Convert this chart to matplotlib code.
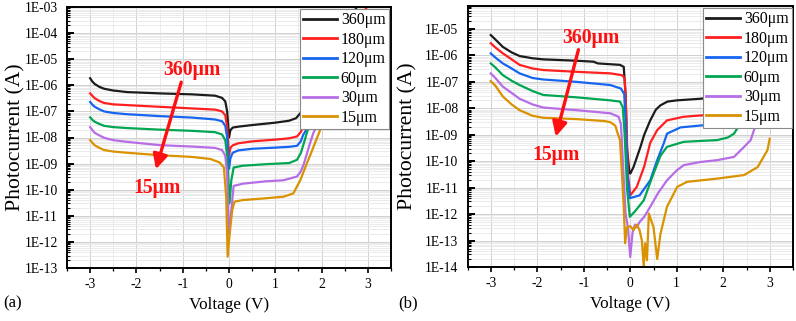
import numpy as np
import matplotlib
matplotlib.use('Agg')
import matplotlib.pyplot as plt
from matplotlib.ticker import MultipleLocator, LogLocator, FuncFormatter, NullFormatter

plt.rcParams['font.family'] = ['Liberation Serif', 'DejaVu Serif']
plt.rcParams['axes.unicode_minus'] = False

labels = ['360μm', '180μm', '120μm', '60μm', '30μm', '15μm']
colors = ['#1c1c1c', '#ff1f1f', '#1565f0', '#00a651', '#b66de6', '#d99200']
x_ticks = [-3, -2, -1, 0, 1, 2, 3]

# ---------------- panel (a) ----------------
a_v_360 = [-3.0, -2.95, -2.9, -2.8, -2.7, -2.5, -2.2, -1.5, -0.8, -0.3, -0.15, -0.08, -0.04, 0.0, 0.03, 0.08, 0.2, 0.5, 1.0, 1.3, 1.45, 1.55, 1.65, 1.8, 2.2, 2.76, 3.0]
a_i_360 = [1.86e-6, 1.38e-6, 1.12e-6, 8.7e-7, 7.4e-7, 6.3e-7, 5.5e-7, 4.9e-7, 4.5e-7, 4.0e-7, 3.3e-7, 2.4e-7, 1.0e-7, 1.0e-8, 1.9e-8, 2.4e-8, 2.6e-8, 3.0e-8, 3.7e-8, 4.4e-8, 5.5e-8, 8.9e-8, 2.0e-7, 7.9e-7, 1.26e-5, 1.0e-3, 2.5e-3]

a_v_180 = [-3.0, -2.95, -2.9, -2.8, -2.7, -2.5, -2.2, -1.5, -0.8, -0.3, -0.15, -0.08, -0.04, 0.0, 0.03, 0.08, 0.2, 0.5, 1.0, 1.3, 1.47, 1.55, 1.6, 1.7, 2.0, 2.5, 2.98, 3.0]
a_i_180 = [4.9e-7, 3.9e-7, 3.2e-7, 2.5e-7, 2.1e-7, 1.86e-7, 1.74e-7, 1.5e-7, 1.3e-7, 1.17e-7, 1.0e-7, 7.1e-8, 2.5e-8, 2.0e-9, 4.0e-9, 5.0e-9, 6.0e-9, 7.1e-9, 8.3e-9, 9.3e-9, 1.1e-8, 1.6e-8, 2.6e-8, 6.3e-8, 1.0e-6, 4.0e-5, 1.0e-3, 1.1e-3]

a_v_120 = [-3.0, -2.95, -2.9, -2.8, -2.7, -2.5, -2.2, -1.5, -0.8, -0.3, -0.15, -0.08, -0.04, 0.0, 0.03, 0.08, 0.2, 0.5, 1.0, 1.3, 1.47, 1.55, 1.6, 1.67, 1.8, 2.2, 3.0]
a_i_120 = [2.3e-7, 1.8e-7, 1.5e-7, 1.2e-7, 1.0e-7, 8.7e-8, 7.8e-8, 6.6e-8, 5.8e-8, 4.9e-8, 4.2e-8, 2.8e-8, 1.0e-8, 6.3e-10, 1.6e-9, 2.6e-9, 3.2e-9, 3.7e-9, 4.1e-9, 4.4e-9, 4.8e-9, 7.1e-9, 1.23e-8, 2.0e-8, 6.3e-8, 1.6e-6, 2.5e-4]

a_v_60 = [-3.0, -2.95, -2.9, -2.8, -2.7, -2.5, -2.2, -1.5, -0.8, -0.3, -0.15, -0.08, -0.04, 0.01, 0.05, 0.1, 0.3, 0.8, 1.3, 1.47, 1.55, 1.62, 1.68, 1.75, 2.0, 3.0]
a_i_60 = [5.9e-8, 4.7e-8, 4.0e-8, 3.3e-8, 2.8e-8, 2.5e-8, 2.3e-8, 2.0e-8, 1.8e-8, 1.6e-8, 1.3e-8, 7.9e-9, 2.0e-9, 3.0e-11, 2.3e-10, 7.1e-10, 8.3e-10, 9.5e-10, 1.05e-9, 1.4e-9, 2.5e-9, 6.3e-9, 1.45e-8, 3.5e-8, 3.2e-7, 1.0e-4]

a_v_30 = [-3.0, -2.95, -2.9, -2.8, -2.7, -2.5, -2.2, -1.5, -0.8, -0.3, -0.15, -0.08, -0.04, -0.01, 0.05, 0.1, 0.3, 0.8, 1.18, 1.47, 1.55, 1.61, 1.75, 1.82, 2.1, 3.0]
a_i_30 = [2.5e-8, 1.9e-8, 1.5e-8, 1.2e-8, 9.8e-9, 7.9e-9, 6.8e-9, 5.1e-9, 4.5e-9, 4.0e-9, 3.3e-9, 2.0e-9, 4.0e-10, 2.1e-12, 1.66e-11, 1.4e-10, 1.7e-10, 2.1e-10, 2.3e-10, 3.2e-10, 5.0e-10, 8.9e-10, 6.0e-9, 1.45e-8, 1.6e-7, 5.0e-5]

a_v_15 = [-3.0, -2.95, -2.9, -2.8, -2.7, -2.5, -2.2, -1.5, -0.8, -0.4, -0.2, -0.11, -0.06, -0.03, 0.03, 0.07, 0.12, 0.3, 0.8, 1.18, 1.39, 1.54, 1.68, 1.75, 1.97, 2.3, 3.0]
a_i_15 = [7.9e-9, 6.2e-9, 5.0e-9, 4.0e-9, 3.3e-9, 2.9e-9, 2.6e-9, 2.1e-9, 1.8e-9, 1.5e-9, 1.1e-9, 7.1e-10, 5.0e-11, 2.7e-13, 3.8e-12, 1.66e-11, 3.5e-11, 4.0e-11, 4.7e-11, 5.4e-11, 7.2e-11, 2.3e-10, 1.0e-9, 2.0e-9, 1.95e-8, 3.2e-7, 1.6e-5]

# ---------------- panel (b) ----------------
b_v_360 = [-3.0, -2.9, -2.74, -2.55, -2.38, -2.1, -1.87, -1.15, -0.79, -0.7, -0.22, -0.14, -0.1, -0.07, -0.02, 0.0, 0.07, 0.22, 0.3, 0.43, 0.55, 0.65, 0.8, 1.0, 1.5, 2.0, 2.5, 3.0]
b_i_360 = [5.9e-6, 4.0e-6, 2.1e-6, 1.3e-6, 9.5e-7, 7.8e-7, 7.1e-7, 6.3e-7, 5.8e-7, 5.0e-7, 4.4e-7, 3.7e-7, 3.2e-8, 3.2e-10, 4.0e-11, 3.4e-11, 6.0e-11, 3.5e-10, 1.0e-9, 3.5e-9, 8.9e-9, 1.3e-8, 1.8e-8, 2.0e-8, 2.3e-8, 2.8e-8, 5.0e-8, 1.6e-7]

b_v_180 = [-3.0, -2.9, -2.74, -2.55, -2.38, -2.1, -1.87, -1.15, -0.43, -0.18, -0.12, -0.09, -0.05, 0.0, 0.14, 0.3, 0.43, 0.58, 0.79, 1.15, 1.58, 2.2, 3.0]
b_i_180 = [2.9e-6, 2.0e-6, 1.2e-6, 7.1e-7, 4.4e-7, 3.2e-7, 2.8e-7, 2.4e-7, 2.1e-7, 1.8e-7, 1.4e-7, 1.0e-8, 3.2e-11, 5.1e-12, 1.07e-11, 6.3e-11, 5.0e-10, 1.5e-9, 3.5e-9, 4.8e-9, 5.5e-9, 7.0e-9, 2.5e-8]

b_v_120 = [-3.0, -2.9, -2.74, -2.55, -2.38, -2.1, -1.87, -1.15, -0.43, -0.2, -0.13, -0.1, -0.06, -0.01, 0.2, 0.43, 0.58, 0.72, 0.79, 1.08, 1.58, 2.2, 3.0]
b_i_120 = [1.2e-6, 8.3e-7, 5.0e-7, 3.2e-7, 2.1e-7, 1.4e-7, 1.23e-7, 1.0e-7, 7.6e-8, 5.6e-8, 3.5e-8, 3.2e-9, 3.2e-11, 4.0e-12, 5.1e-12, 1.9e-11, 1.1e-10, 4.7e-10, 1.1e-9, 1.9e-9, 2.3e-9, 2.8e-9, 7.9e-9]

b_v_60 = [-3.0, -2.9, -2.74, -2.55, -2.38, -2.1, -1.87, -1.15, -0.43, -0.22, -0.16, -0.12, -0.07, -0.01, 0.1, 0.29, 0.5, 0.65, 0.79, 1.15, 1.87, 2.1, 2.23, 2.4, 3.0]
b_i_60 = [5.0e-7, 3.5e-7, 1.8e-7, 1.1e-7, 7.6e-8, 4.5e-8, 3.2e-8, 2.6e-8, 2.0e-8, 1.8e-8, 1.1e-8, 1.0e-9, 1.0e-11, 7.9e-13, 1.26e-12, 3.3e-12, 3.4e-11, 1.6e-10, 3.5e-10, 5.4e-10, 6.3e-10, 7.9e-10, 1.1e-9, 3.2e-9, 3.2e-8]

b_v_30 = [-3.0, -2.9, -2.74, -2.55, -2.38, -2.1, -1.87, -1.15, -0.43, -0.25, -0.2, -0.16, -0.1, -0.05, 0.0, 0.05, 0.1, 0.14, 0.2, 0.3, 0.43, 0.6, 0.79, 1.0, 1.15, 1.5, 1.87, 2.23, 2.45, 2.59, 2.66, 3.0]
b_i_30 = [2.1e-7, 1.4e-7, 6.6e-8, 3.8e-8, 2.3e-8, 1.4e-8, 1.07e-8, 8.5e-9, 6.5e-9, 4.8e-9, 2.5e-9, 1.0e-10, 1.0e-12, 3.2e-13, 2.4e-14, 2.0e-13, 4.0e-13, 3.2e-13, 5.0e-13, 7.9e-13, 1.9e-12, 6.3e-12, 1.9e-11, 4.5e-11, 7.1e-11, 9.3e-11, 1.1e-10, 1.45e-10, 3.5e-10, 6.3e-10, 1.5e-9, 3.2e-8]

b_v_15 = [-3.0, -2.9, -2.74, -2.55, -2.38, -2.1, -1.87, -1.15, -0.55, -0.43, -0.32, -0.28, -0.22, -0.14, -0.11, -0.07, 0.0, 0.07, 0.14, 0.2, 0.25, 0.29, 0.32, 0.36, 0.4, 0.5, 0.58, 0.65, 0.79, 1.01, 1.22, 1.87, 2.45, 2.74, 2.95, 3.0]
b_i_15 = [1.07e-7, 7.1e-8, 2.8e-8, 1.4e-8, 8.5e-9, 5.2e-9, 4.4e-9, 3.9e-9, 3.3e-9, 3.0e-9, 2.2e-9, 1.26e-9, 6.3e-10, 1.9e-12, 7.9e-14, 3.2e-13, 3.5e-13, 2.5e-13, 4.0e-13, 2.5e-13, 1.0e-13, 1.0e-14, 7.9e-14, 1.8e-14, 1.05e-12, 3.2e-13, 2.0e-14, 1.8e-13, 1.9e-12, 1.07e-11, 1.66e-11, 2.2e-11, 3.0e-11, 6.0e-11, 2.6e-10, 7.1e-10]

a_series = [(a_v_360, a_i_360), (a_v_180, a_i_180), (a_v_120, a_i_120),
            (a_v_60, a_i_60), (a_v_30, a_i_30), (a_v_15, a_i_15)]
b_series = [(b_v_360, b_i_360), (b_v_180, b_i_180), (b_v_120, b_i_120),
            (b_v_60, b_i_60), (b_v_30, b_i_30), (b_v_15, b_i_15)]

fig = plt.figure(figsize=(7.96, 3.21), dpi=100)
W, H = 796, 321


def add_axes_px(x0, x1, ytop, ybot):
    return fig.add_axes([x0 / W, 1 - ybot / H, (x1 - x0) / W, (ybot - ytop) / H])


ax_a = add_axes_px(67, 391, 7, 268)
ax_b = add_axes_px(467.5, 793, 6, 267)


def fmt(v, pos):
    e = int(round(np.log10(v)))
    return f'1E{e:03d}'


def style(ax, ylim, series, leg_anchor, yl_x):
    for (v, i), c, lab in zip(series, colors, labels):
        ax.plot(v, i, color=c, lw=1.6, label=lab, solid_joinstyle='round')
    ax.set_yscale('log')
    ax.set_xlim(-3.5, 3.5)
    ax.set_ylim(*ylim)
    ax.xaxis.set_major_locator(MultipleLocator(1))
    ax.xaxis.set_minor_locator(MultipleLocator(0.5))
    ax.yaxis.set_major_locator(LogLocator(base=10, numticks=30))
    ax.yaxis.set_minor_locator(LogLocator(base=10, subs=np.arange(2, 10), numticks=30))
    ax.yaxis.set_major_formatter(FuncFormatter(fmt))
    ax.yaxis.set_minor_formatter(NullFormatter())
    ax.set_xticks(x_ticks)
    ax.grid(True, which='major', color='#d0d0d0', lw=0.7)
    ax.grid(True, which='minor', color='#e8e8e8', lw=0.6)
    ax.set_axisbelow(True)
    for s in ax.spines.values():
        s.set_linewidth(1.4)
        s.set_color('black')
    ax.tick_params(axis='y', which='major', direction='in', length=5, width=1.4, pad=6.5, labelsize=9.8)
    ax.tick_params(axis='y', which='minor', direction='in', length=2.5, width=0.8)
    ax.tick_params(axis='x', which='major', direction='out', length=3.5, width=1.2, pad=4, labelsize=9.8)
    ax.tick_params(axis='x', which='minor', direction='out', length=2.5, width=0.9)
    ax.set_xlabel('Voltage (V)', fontsize=12.3, va='center')
    ax.xaxis.set_label_coords(0.5, -0.142)
    ax.set_ylabel('Photocurrent (A)', fontsize=15.6, va='center')
    ax.yaxis.set_label_coords(yl_x, 0.5)
    leg = ax.legend(loc='upper right', bbox_to_anchor=leg_anchor, frameon=True,
                    fancybox=False, edgecolor='#8a8a8a', framealpha=1,
                    fontsize=11.5, handlelength=2.1, handletextpad=0.25,
                    labelspacing=0.22, borderpad=0.2, borderaxespad=0)
    leg.get_frame().set_linewidth(0.8)
    for h in leg.get_lines():
        h.set_linewidth(2.0)


style(ax_a, (1e-13, 1e-3), a_series, ((389 - 67) / 324, 1 - (9 - 7) / 261), -0.157)
style(ax_b, (1e-14, 7.4e-5), b_series, ((792 - 467.5) / 325.5, 1 - (8 - 6) / 261), -0.183)

# annotations
ax_a.annotate('', xy=(0.272, 0.368), xytext=(0.355, 0.722), xycoords='axes fraction',
              arrowprops=dict(arrowstyle='-|>', color='#ff1010', lw=2.4, mutation_scale=22))
ax_a.text(0.386, 0.759, '360μm', transform=ax_a.transAxes, color='#ff1010',
          fontsize=14.2, fontweight='bold', ha='center', va='center')
ax_a.text(0.277, 0.308, '15μm', transform=ax_a.transAxes, color='#ff1010',
          fontsize=14.2, fontweight='bold', ha='center', va='center')

ax_b.annotate('', xy=(0.269, 0.489), xytext=(0.343, 0.843), xycoords='axes fraction',
              arrowprops=dict(arrowstyle='-|>', color='#ff1010', lw=2.4, mutation_scale=22))
ax_b.text(0.379, 0.877, '360μm', transform=ax_b.transAxes, color='#ff1010',
          fontsize=14.2, fontweight='bold', ha='center', va='center')
ax_b.text(0.272, 0.429, '15μm', transform=ax_b.transAxes, color='#ff1010',
          fontsize=14.2, fontweight='bold', ha='center', va='center')

fig.text(3 / W, 1 - 303 / H, '(a)', fontsize=12, ha='left', va='center')
fig.text(398 / W, 1 - 303 / H, '(b)', fontsize=12, ha='left', va='center')

fig.savefig('out.png', dpi=100)
